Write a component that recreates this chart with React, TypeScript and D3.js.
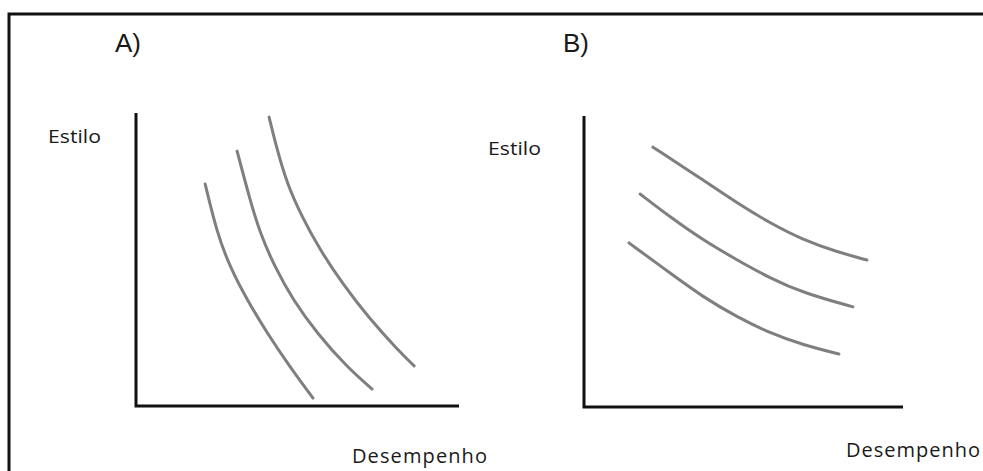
import React from "react";
import * as d3 from "d3";

// Panel A curves (data units 0-100 on both axes)
const curveA1: [number, number][] = [[21.4, 75.8], [25.1, 59.0], [29.1, 47.4], [34.4, 36.2], [40.6, 24.9], [47.7, 13.3], [54.8, 2.7]];
const curveA2: [number, number][] = [[31.3, 87.0], [35.3, 70.3], [38.4, 59.0], [43.0, 47.4], [48.6, 36.2], [56.0, 24.9], [65.3, 13.3], [73.1, 5.8]];
const curveA3: [number, number][] = [[41.2, 98.6], [43.7, 87.4], [46.7, 76.1], [51.4, 64.5], [57.0, 53.2], [63.8, 42.0], [71.8, 30.4], [81.1, 19.1], [86.1, 13.7]];

// Panel B curves
const curveB1: [number, number][] = [[21.6, 89.3], [37.3, 78.0], [48.0, 70.1], [58.3, 63.2], [68.7, 57.4], [79.3, 53.3], [88.7, 50.5]];
const curveB2: [number, number][] = [[17.6, 73.2], [27.0, 65.3], [37.3, 57.4], [48.0, 50.5], [58.3, 44.3], [68.7, 39.2], [84.3, 34.4]];
const curveB3: [number, number][] = [[14.1, 56.4], [27.0, 46.0], [37.3, 37.8], [48.0, 30.9], [58.3, 25.4], [68.7, 21.3], [79.9, 18.2]];

const panelTitles = ["A)", "B)"];
const yLabel = "Estilo";
const xLabel = "Desempenho";

const W = 983;
const H = 471;

type Panel = {
  title: string;
  x0: number; x1: number; y0: number; y1: number;
  titleX: number; titleY: number;
  yLabX: number; yLabY: number;
  xLabX: number; xLabY: number; xLabW: number;
  curves: [number, number][][];
};

const panels: Panel[] = [
  {
    title: panelTitles[0], x0: 136, x1: 459, y0: 406, y1: 113,
    titleX: 115, titleY: 52, yLabX: 48, yLabY: 143,
    xLabX: 352, xLabY: 463, xLabW: 135,
    curves: [curveA1, curveA2, curveA3],
  },
  {
    title: panelTitles[1], x0: 584, x1: 903, y0: 407, y1: 116,
    titleX: 563, titleY: 52, yLabX: 488, yLabY: 155,
    xLabX: 846, xLabY: 457, xLabW: 134,
    curves: [curveB1, curveB2, curveB3],
  },
];

export default function App() {
  return (
    <svg
      width={W}
      height={H}
      style={{ position: "absolute", left: 0, top: 0, background: "#fff" }}
    >
      <rect x={0} y={0} width={W} height={H} fill="#fff" />
      <path d={`M9,${H + 5} V14 H${W + 5}`} fill="none" stroke="#111" strokeWidth={3} />
      {panels.map((p, i) => {
        const xs = d3.scaleLinear().domain([0, 100]).range([p.x0, p.x1]);
        const ys = d3.scaleLinear().domain([0, 100]).range([p.y0, p.y1]);
        const line = d3
          .line<[number, number]>()
          .x((d) => xs(d[0]))
          .y((d) => ys(d[1]))
          .curve(d3.curveBasis);
        return (
          <g key={i}>
            <text
              x={p.titleX}
              y={p.titleY}
              fontFamily="'Liberation Sans', Arial, sans-serif"
              fontSize={26}
              fill="#1a1a1a"
            >
              {p.title}
            </text>
            <text
              x={p.yLabX}
              y={p.yLabY}
              fontFamily="'Open Sans', sans-serif"
              fontSize={18}
              textLength={53}
              lengthAdjust="spacingAndGlyphs"
              fill="#1a1a1a"
            >
              {yLabel}
            </text>
            <text
              x={p.xLabX}
              y={p.xLabY}
              fontFamily="'Open Sans', sans-serif"
              fontSize={20}
              textLength={p.xLabW}
              lengthAdjust="spacing"
              fill="#1a1a1a"
            >
              {xLabel}
            </text>
            {p.curves.map((c, j) => (
              <path
                key={j}
                d={line(c) || ""}
                fill="none"
                stroke="#7f7f7f"
                strokeWidth={3}
                strokeLinecap="round"
              />
            ))}
            <path
              d={`M${xs(0)},${ys(100)} V${ys(0)} H${xs(100)}`}
              fill="none"
              stroke="#111"
              strokeWidth={3}
            />
          </g>
        );
      })}
    </svg>
  );
}
